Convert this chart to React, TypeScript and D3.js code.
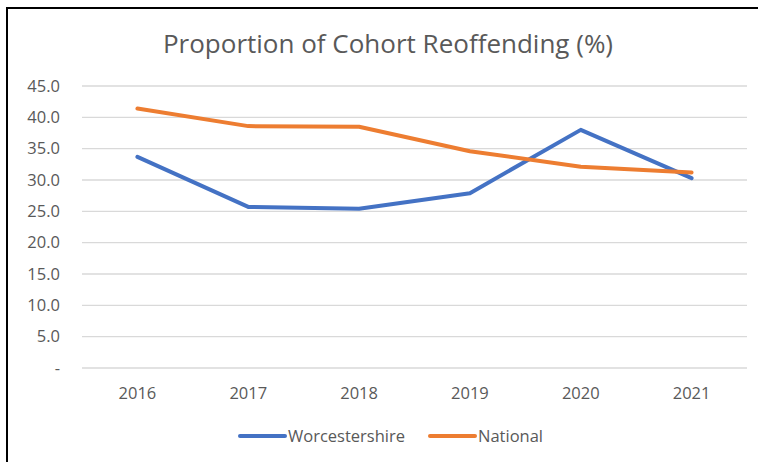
import React, { useEffect, useRef } from 'react';
import * as d3 from 'd3';

const years = ['2016', '2017', '2018', '2019', '2020', '2021'];
const worcestershire = [33.7, 25.7, 25.4, 27.9, 38.0, 30.3];
const national = [41.4, 38.6, 38.5, 34.6, 32.1, 31.2];
const yTicks = [0, 5, 10, 15, 20, 25, 30, 35, 40, 45];

const series = [
  { name: 'Worcestershire', values: worcestershire, color: '#4472C4' },
  { name: 'National', values: national, color: '#ED7D31' },
];

const App = () => {
  const svgRef = useRef<SVGSVGElement>(null);

  useEffect(() => {
    const svg = d3.select(svgRef.current);
    svg.selectAll('*').remove();

    const width = 758;
    const height = 462;
    const margin = { top: 86, right: 11, bottom: 94, left: 82 };
    const font = '"Open Sans", sans-serif';
    const textColor = '#595959';

    // Frame
    svg.append('rect')
      .attr('x', 7)
      .attr('y', 8)
      .attr('width', width)
      .attr('height', height)
      .attr('fill', 'white')
      .attr('stroke', 'black')
      .attr('stroke-width', 2);

    const x = d3.scaleBand()
      .domain(years)
      .range([margin.left, width - margin.right]);

    const y = d3.scaleLinear()
      .domain([0, 45])
      .range([height - margin.bottom, margin.top]);

    // Gridlines
    svg.append('g')
      .selectAll('line')
      .data(yTicks)
      .join('line')
      .attr('x1', margin.left)
      .attr('x2', width - margin.right)
      .attr('y1', d => y(d))
      .attr('y2', d => y(d))
      .attr('stroke', '#d9d9d9')
      .attr('stroke-width', 1.3);

    // Y labels
    svg.append('g')
      .selectAll('text')
      .data(yTicks)
      .join('text')
      .attr('x', 60)
      .attr('y', d => y(d))
      .attr('dy', '0.35em')
      .attr('text-anchor', 'end')
      .attr('fill', textColor)
      .style('font-family', font)
      .style('font-size', '16.5px')
      .text(d => (d === 0 ? '-' : d.toFixed(1)));

    // X labels
    svg.append('g')
      .selectAll('text')
      .data(years)
      .join('text')
      .attr('x', d => x(d)! + x.bandwidth() / 2)
      .attr('y', 399)
      .attr('text-anchor', 'middle')
      .attr('fill', textColor)
      .style('font-family', font)
      .style('font-size', '16.5px')
      .text(d => d);

    // Lines
    const line = d3.line<number>()
      .x((_, i) => x(years[i])! + x.bandwidth() / 2)
      .y(d => y(d));

    series.forEach(s => {
      svg.append('path')
        .datum(s.values)
        .attr('d', line)
        .attr('fill', 'none')
        .attr('stroke', s.color)
        .attr('stroke-width', 4)
        .attr('stroke-linejoin', 'round')
        .attr('stroke-linecap', 'round');
    });

    // Title
    svg.append('text')
      .attr('x', 388)
      .attr('y', 53)
      .attr('text-anchor', 'middle')
      .attr('fill', textColor)
      .style('font-family', font)
      .style('font-size', '26px')
      .text('Proportion of Cohort Reoffending (%)');

    // Legend
    const legendX = [240, 430];
    const legend = svg.append('g');
    series.forEach((s, i) => {
      legend.append('line')
        .attr('x1', legendX[i])
        .attr('x2', legendX[i] + 45)
        .attr('y1', 436)
        .attr('y2', 436)
        .attr('stroke', s.color)
        .attr('stroke-width', 4)
        .attr('stroke-linecap', 'round');
      legend.append('text')
        .attr('x', legendX[i] + 48)
        .attr('y', 436)
        .attr('dy', '0.35em')
        .attr('fill', textColor)
        .style('font-family', font)
        .style('font-size', '16.5px')
        .text(s.name);
    });
  }, []);

  return (
    <svg
      ref={svgRef}
      width="758"
      height="462"
      style={{ position: 'absolute', left: 0, top: 0 }}
    ></svg>
  );
};

export default App;
